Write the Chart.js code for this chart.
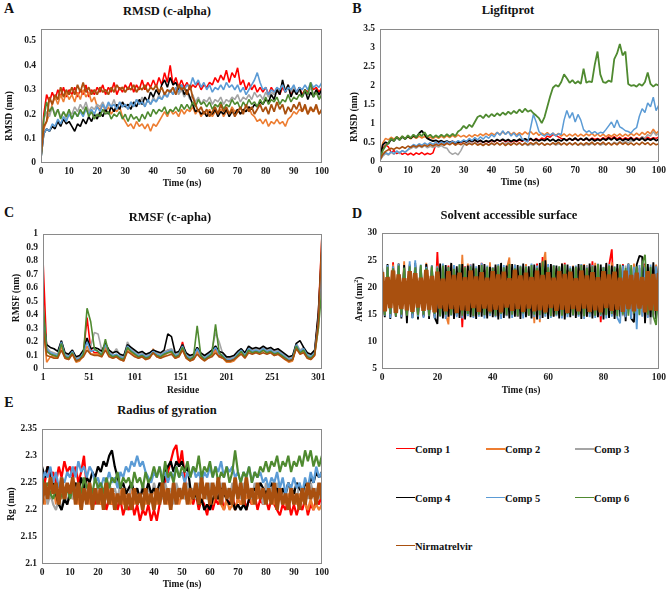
<!DOCTYPE html>
<html><head><meta charset="utf-8">
<script src="https://cdn.jsdelivr.net/npm/chart.js@4.4.1/dist/chart.umd.min.js"></script>
<style>
html,body{margin:0;padding:0;background:#fff;}
body{width:669px;height:593px;position:relative;overflow:hidden;font-family:"Liberation Serif","Times New Roman",serif;color:#111;}
canvas{position:absolute;}
.t{position:absolute;font-weight:bold;white-space:nowrap;transform:translate(-50%,-50%);line-height:1;}
.r{transform:translate(-50%,-50%) rotate(-90deg);}
.let{font-size:14px;}
.ttl{font-size:12.5px;}
.ax{font-size:9.5px;}
.lg{position:absolute;height:0;}
.lgt{position:absolute;font-weight:bold;font-size:10.5px;transform:translateY(-50%);white-space:nowrap;}
</style></head><body>
<canvas id="cA" width="332" height="178" style="left:0;top:18px"></canvas>
<canvas id="cB" width="334" height="178" style="left:335px;top:18px"></canvas>
<canvas id="cC" width="332" height="165" style="left:0;top:222px"></canvas>
<canvas id="cD" width="334" height="165" style="left:335px;top:222px"></canvas>
<canvas id="cE" width="332" height="170" style="left:0;top:418px"></canvas>

<div class="t let" style="left:9px;top:9px">A</div>
<div class="t let" style="left:357px;top:9px">B</div>
<div class="t let" style="left:9px;top:213px">C</div>
<div class="t let" style="left:357px;top:214px">D</div>
<div class="t let" style="left:9px;top:403px">E</div>

<div class="t ttl" style="left:167px;top:11px">RMSD (c-alpha)</div>
<div class="t ttl" style="left:508px;top:10px">Ligfitprot</div>
<div class="t ttl" style="left:170px;top:217px">RMSF (c-apha)</div>
<div class="t ttl" style="left:509px;top:215px">Solvent accessible surface</div>
<div class="t ttl" style="left:167px;top:410px">Radius of gyration</div>

<div class="t ax" style="left:182px;top:184px">Time (ns)</div>
<div class="t ax" style="left:520px;top:183px">Time (ns)</div>
<div class="t ax" style="left:183px;top:391px">Residue</div>
<div class="t ax" style="left:521px;top:391px">Time (ns)</div>
<div class="t ax" style="left:182px;top:585px">Time (ns)</div>

<div class="t ax r" style="left:10px;top:116px">RMSD (nm)</div>
<div class="t ax r" style="left:355px;top:117px">RMSD (nm)</div>
<div class="t ax r" style="left:17px;top:298px">RMSF (nm)</div>
<div class="t ax r" style="left:359px;top:299px">Area (nm<sup style="font-size:6px;vertical-align:4px">2</sup>)</div>
<div class="t ax r" style="left:12px;top:504px">Rg (nm)</div>

<div id="legend"></div>

<script>
// ---------- series names & colours ----------
const seriesNames = ["Comp 1","Comp 2","Comp 3","Comp 4","Comp 5","Comp 6","Nirmatrelvir"];
const seriesColors = ["#FF0000","#ED7D31","#A5A5A5","#000000","#5B9BD5","#4F8A30","#A9500F"];

// ---------- common time axis (ns) ----------
const time = [0,1,2,3,4,5,6,7,8,9,10,11,12,13,14,15,16,17,18,19,20,21,22,23,24,25,26,27,28,29,30,31,32,33,34,35,36,37,38,39,40,41,42,43,44,45,46,47,48,49,50,51,52,53,54,55,56,57,58,59,60,61,62,63,64,65,66,67,68,69,70,71,72,73,74,75,76,77,78,79,80,81,82,83,84,85,86,87,88,89,90,91,92,93,94,95,96,97,98,99,100];

// ---------- tick labels ----------
const ticksTime10 = [0,10,20,30,40,50,60,70,80,90,100];
const ticksTime20 = [0,20,40,60,80,100];
const ticksRmsdY = [0,0.1,0.2,0.3,0.4,0.5];
const ticksLigY = [0,0.5,1,1.5,2,2.5,3,3.5];
const ticksResidue = [1,51,101,151,201,251,301];
const ticksRmsfY = [0,0.1,0.2,0.3,0.4,0.5,0.6,0.7,0.8,0.9,1];
const ticksAreaY = [5,10,15,20,25,30];
const ticksRgY = [2.1,2.15,2.2,2.25,2.3,2.35];

// ---------- A: RMSD (c-alpha), nm ----------
const rmsdComp1 = [0.03,0.20,0.28,0.25,0.29,0.26,0.30,0.27,0.31,0.27,0.30,0.28,0.31,0.27,0.30,0.28,0.32,0.27,0.30,0.28,0.31,0.29,0.32,0.28,0.31,0.29,0.33,0.28,0.31,0.29,0.32,0.30,0.33,0.29,0.32,0.30,0.34,0.30,0.33,0.31,0.34,0.31,0.35,0.32,0.37,0.33,0.40,0.32,0.35,0.31,0.34,0.31,0.33,0.30,0.32,0.31,0.33,0.30,0.32,0.31,0.33,0.32,0.35,0.33,0.36,0.34,0.38,0.33,0.37,0.35,0.39,0.32,0.34,0.30,0.33,0.30,0.32,0.29,0.31,0.29,0.31,0.28,0.31,0.29,0.30,0.28,0.31,0.29,0.32,0.28,0.30,0.29,0.31,0.28,0.30,0.29,0.32,0.30,0.31,0.29,0.31];
const rmsdComp2 = [0.05,0.14,0.17,0.20,0.24,0.27,0.24,0.28,0.25,0.29,0.26,0.28,0.25,0.29,0.26,0.30,0.27,0.29,0.25,0.27,0.23,0.22,0.24,0.21,0.23,0.20,0.22,0.21,0.23,0.19,0.17,0.15,0.16,0.14,0.17,0.15,0.16,0.14,0.16,0.13,0.16,0.15,0.17,0.19,0.21,0.19,0.22,0.20,0.21,0.19,0.22,0.20,0.22,0.21,0.23,0.20,0.22,0.19,0.21,0.20,0.22,0.19,0.21,0.20,0.22,0.19,0.21,0.20,0.23,0.21,0.22,0.20,0.22,0.21,0.23,0.20,0.19,0.17,0.18,0.16,0.18,0.15,0.17,0.16,0.18,0.16,0.17,0.15,0.18,0.19,0.21,0.20,0.22,0.21,0.23,0.20,0.22,0.21,0.23,0.20,0.22];
const rmsdComp3 = [0.05,0.18,0.21,0.19,0.23,0.20,0.22,0.19,0.21,0.18,0.21,0.20,0.23,0.21,0.24,0.22,0.25,0.21,0.23,0.22,0.24,0.23,0.25,0.22,0.24,0.23,0.26,0.22,0.25,0.23,0.24,0.22,0.25,0.23,0.26,0.24,0.27,0.23,0.26,0.24,0.27,0.25,0.28,0.26,0.29,0.27,0.30,0.28,0.31,0.28,0.30,0.27,0.29,0.26,0.28,0.25,0.27,0.24,0.26,0.25,0.27,0.24,0.26,0.25,0.27,0.24,0.26,0.25,0.27,0.26,0.28,0.25,0.27,0.26,0.28,0.26,0.29,0.27,0.28,0.26,0.29,0.27,0.29,0.28,0.31,0.29,0.33,0.30,0.32,0.29,0.31,0.28,0.30,0.27,0.29,0.28,0.31,0.28,0.30,0.27,0.29];
const rmsdComp4 = [0.02,0.12,0.14,0.13,0.15,0.14,0.17,0.15,0.18,0.16,0.17,0.15,0.13,0.16,0.15,0.18,0.16,0.19,0.17,0.20,0.18,0.21,0.19,0.22,0.20,0.23,0.21,0.24,0.22,0.25,0.23,0.24,0.22,0.25,0.23,0.26,0.24,0.27,0.25,0.29,0.27,0.30,0.28,0.32,0.34,0.31,0.35,0.32,0.33,0.30,0.32,0.28,0.30,0.27,0.24,0.21,0.22,0.20,0.21,0.19,0.21,0.20,0.22,0.19,0.21,0.20,0.22,0.19,0.21,0.20,0.22,0.20,0.22,0.21,0.23,0.22,0.24,0.23,0.25,0.24,0.26,0.25,0.28,0.26,0.30,0.28,0.34,0.29,0.32,0.27,0.30,0.28,0.31,0.27,0.30,0.26,0.29,0.27,0.30,0.28,0.30];
const rmsdComp5 = [0.02,0.12,0.14,0.13,0.16,0.15,0.18,0.16,0.19,0.17,0.20,0.18,0.21,0.19,0.21,0.19,0.22,0.20,0.22,0.20,0.23,0.21,0.24,0.22,0.25,0.23,0.24,0.22,0.25,0.23,0.24,0.22,0.25,0.23,0.26,0.24,0.25,0.23,0.26,0.24,0.26,0.25,0.27,0.26,0.28,0.27,0.30,0.28,0.31,0.29,0.32,0.30,0.32,0.31,0.35,0.32,0.34,0.31,0.33,0.30,0.32,0.29,0.31,0.30,0.32,0.30,0.33,0.31,0.32,0.30,0.32,0.29,0.31,0.28,0.30,0.32,0.34,0.37,0.33,0.30,0.31,0.28,0.30,0.29,0.31,0.30,0.32,0.29,0.31,0.30,0.32,0.29,0.31,0.30,0.32,0.30,0.33,0.31,0.32,0.31,0.33];
const rmsdComp6 = [0.02,0.18,0.25,0.21,0.23,0.19,0.22,0.18,0.21,0.19,0.22,0.18,0.21,0.19,0.22,0.20,0.23,0.19,0.21,0.18,0.20,0.19,0.22,0.20,0.21,0.18,0.20,0.19,0.21,0.18,0.20,0.17,0.20,0.18,0.19,0.17,0.20,0.18,0.21,0.19,0.22,0.20,0.22,0.21,0.23,0.20,0.22,0.21,0.23,0.21,0.24,0.22,0.24,0.22,0.25,0.23,0.26,0.24,0.25,0.23,0.25,0.22,0.24,0.23,0.25,0.22,0.24,0.23,0.26,0.24,0.25,0.22,0.25,0.23,0.26,0.24,0.25,0.23,0.26,0.24,0.27,0.24,0.26,0.25,0.27,0.24,0.26,0.25,0.28,0.25,0.27,0.26,0.28,0.27,0.30,0.28,0.33,0.27,0.29,0.26,0.28];
const rmsdNirmatrelvir = [0.03,0.15,0.17,0.27,0.24,0.28,0.26,0.31,0.27,0.30,0.28,0.31,0.28,0.32,0.29,0.33,0.29,0.31,0.28,0.30,0.28,0.31,0.29,0.30,0.28,0.31,0.29,0.32,0.30,0.31,0.29,0.31,0.30,0.32,0.29,0.31,0.30,0.32,0.29,0.31,0.30,0.32,0.29,0.31,0.28,0.30,0.29,0.31,0.28,0.32,0.30,0.31,0.28,0.32,0.27,0.24,0.21,0.23,0.20,0.22,0.19,0.21,0.23,0.20,0.24,0.21,0.23,0.20,0.22,0.19,0.21,0.23,0.20,0.24,0.21,0.23,0.20,0.22,0.24,0.21,0.23,0.20,0.24,0.21,0.25,0.22,0.24,0.20,0.23,0.21,0.24,0.22,0.25,0.21,0.24,0.20,0.23,0.21,0.24,0.20,0.22];

// ---------- B: Ligfitprot RMSD, nm ----------
const ligComp1 = [0.10,0.35,0.45,0.40,0.25,0.30,0.22,0.25,0.20,0.24,0.19,0.23,0.18,0.24,0.20,0.25,0.19,0.23,0.20,0.24,0.45,0.50,0.55,0.48,0.52,0.50,0.55,0.49,0.53,0.50,0.56,0.52,0.57,0.53,0.58,0.52,0.56,0.51,0.55,0.52,0.57,0.53,0.58,0.54,0.59,0.53,0.57,0.52,0.56,0.53,0.58,0.54,0.59,0.55,0.60,0.56,0.62,0.57,0.63,0.60,0.68,0.65,0.72,0.70,0.66,0.62,0.60,0.58,0.62,0.57,0.61,0.58,0.62,0.57,0.61,0.58,0.63,0.59,0.62,0.58,0.64,0.60,0.66,0.61,0.67,0.60,0.65,0.59,0.64,0.60,0.65,0.59,0.64,0.60,0.66,0.61,0.65,0.60,0.64,0.62,0.66];
const ligComp2 = [0.10,0.50,0.62,0.58,0.65,0.60,0.66,0.61,0.67,0.62,0.66,0.61,0.67,0.62,0.68,0.63,0.67,0.62,0.66,0.61,0.67,0.62,0.68,0.63,0.69,0.64,0.70,0.65,0.71,0.66,0.70,0.65,0.71,0.66,0.72,0.68,0.74,0.69,0.75,0.70,0.76,0.71,0.78,0.72,0.79,0.73,0.80,0.72,0.78,0.71,0.77,0.72,0.79,0.73,0.80,0.72,0.78,0.70,0.76,0.71,0.77,0.70,0.76,0.69,0.75,0.68,0.74,0.67,0.73,0.68,0.74,0.67,0.73,0.68,0.74,0.69,0.75,0.68,0.74,0.67,0.73,0.66,0.72,0.67,0.73,0.68,0.74,0.67,0.73,0.68,0.75,0.69,0.76,0.70,0.78,0.72,0.80,0.74,0.86,0.75,0.82];
const ligComp3 = [0.05,0.15,0.22,0.18,0.25,0.20,0.28,0.22,0.30,0.25,0.32,0.35,0.40,0.36,0.42,0.38,0.43,0.37,0.41,0.38,0.42,0.39,0.43,0.38,0.36,0.25,0.20,0.24,0.19,0.30,0.45,0.48,0.52,0.47,0.51,0.46,0.50,0.45,0.49,0.44,0.48,0.45,0.50,0.46,0.51,0.47,0.52,0.46,0.50,0.45,0.49,0.44,0.48,0.43,0.47,0.44,0.49,0.45,0.50,0.44,0.48,0.45,0.49,0.44,0.48,0.45,0.50,0.46,0.51,0.45,0.49,0.44,0.48,0.43,0.47,0.44,0.49,0.45,0.50,0.44,0.48,0.45,0.50,0.46,0.52,0.48,0.54,0.49,0.55,0.50,0.56,0.55,0.62,0.58,0.66,0.63,0.72,0.68,0.80,0.70,0.76];
const ligComp4 = [0.10,0.45,0.52,0.48,0.60,0.55,0.65,0.58,0.66,0.60,0.68,0.62,0.70,0.64,0.75,0.82,0.72,0.62,0.58,0.55,0.57,0.53,0.56,0.52,0.55,0.51,0.54,0.50,0.53,0.52,0.56,0.53,0.57,0.54,0.58,0.53,0.57,0.52,0.56,0.53,0.58,0.54,0.59,0.55,0.60,0.55,0.59,0.54,0.58,0.55,0.60,0.56,0.61,0.57,0.62,0.56,0.60,0.55,0.59,0.56,0.61,0.55,0.60,0.54,0.59,0.55,0.61,0.56,0.62,0.57,0.63,0.56,0.62,0.57,0.63,0.56,0.61,0.55,0.60,0.56,0.62,0.57,0.63,0.58,0.64,0.57,0.62,0.56,0.61,0.57,0.63,0.56,0.62,0.57,0.63,0.56,0.61,0.57,0.62,0.56,0.60];
const ligComp5 = [0.05,0.18,0.25,0.20,0.27,0.22,0.29,0.24,0.30,0.26,0.32,0.40,0.46,0.42,0.48,0.44,0.50,0.45,0.51,0.46,0.52,0.47,0.53,0.48,0.54,0.49,0.55,0.50,0.56,0.52,0.58,0.54,0.62,0.56,0.64,0.58,0.66,0.60,0.68,0.62,0.72,0.66,0.78,0.70,0.82,0.72,0.80,0.68,0.76,0.66,0.74,0.60,0.56,0.52,0.90,1.25,1.05,0.80,0.72,0.68,0.74,0.70,0.76,0.68,0.74,0.72,1.10,1.35,1.15,1.30,1.05,1.25,1.10,0.85,0.78,0.82,0.75,0.80,0.74,0.78,0.76,0.85,0.95,1.05,0.90,1.10,0.92,0.88,0.82,0.80,0.76,0.85,0.90,1.20,1.40,1.30,1.55,1.45,1.70,1.35,1.50];
const ligComp6 = [0.10,0.30,0.42,0.50,0.62,0.55,0.66,0.58,0.68,0.60,0.70,0.63,0.72,0.65,0.74,0.68,0.78,0.66,0.72,0.64,0.70,0.65,0.72,0.66,0.73,0.67,0.74,0.68,0.80,0.85,0.95,0.88,0.98,0.92,1.05,1.18,1.22,1.15,1.25,1.18,1.26,1.20,1.28,1.22,1.30,1.24,1.32,1.26,1.34,1.28,1.38,1.30,1.40,1.32,1.36,1.28,1.22,1.15,1.02,1.18,1.45,1.72,1.95,2.02,1.98,2.10,2.30,2.20,2.08,2.15,2.06,2.12,2.05,2.45,2.08,2.12,2.10,2.55,2.90,2.30,2.10,2.08,2.14,2.10,2.70,2.85,3.10,2.80,2.90,2.05,2.00,2.02,1.98,2.05,2.00,2.10,2.35,2.05,1.98,2.04,2.00];
const ligNirmatrelvir = [0.05,0.20,0.28,0.32,0.36,0.33,0.38,0.35,0.40,0.36,0.42,0.38,0.43,0.39,0.44,0.40,0.45,0.41,0.46,0.42,0.47,0.43,0.48,0.44,0.49,0.45,0.50,0.44,0.49,0.45,0.50,0.44,0.49,0.45,0.50,0.44,0.48,0.43,0.49,0.44,0.50,0.45,0.51,0.44,0.50,0.43,0.49,0.44,0.50,0.45,0.51,0.44,0.50,0.45,0.51,0.46,0.52,0.45,0.50,0.44,0.49,0.45,0.51,0.46,0.52,0.45,0.50,0.44,0.50,0.45,0.51,0.44,0.50,0.45,0.51,0.46,0.52,0.45,0.51,0.46,0.52,0.45,0.51,0.44,0.50,0.45,0.52,0.46,0.51,0.45,0.50,0.44,0.50,0.45,0.52,0.46,0.51,0.44,0.50,0.45,0.48];

// ---------- C: RMSF (c-alpha), nm, by residue ----------
const residue = [1,5,9,13,17,21,25,29,33,37,41,45,49,53,57,61,65,69,73,77,81,85,89,93,97,101,105,109,113,117,121,125,129,133,137,141,145,149,153,157,161,165,169,173,177,181,185,189,193,197,201,205,209,213,217,221,225,229,233,237,241,245,249,253,257,261,265,269,273,277,281,285,289,293,297,301,305];
const rmsfComp1 = [0.81,0.14,0.11,0.10,0.09,0.19,0.09,0.08,0.12,0.06,0.07,0.11,0.38,0.15,0.12,0.12,0.10,0.17,0.11,0.09,0.10,0.08,0.07,0.16,0.13,0.11,0.09,0.10,0.08,0.09,0.12,0.10,0.09,0.11,0.14,0.13,0.09,0.10,0.20,0.09,0.07,0.08,0.14,0.09,0.07,0.09,0.11,0.15,0.10,0.09,0.06,0.06,0.07,0.10,0.13,0.09,0.14,0.12,0.13,0.12,0.14,0.12,0.13,0.11,0.12,0.10,0.08,0.06,0.07,0.17,0.12,0.14,0.09,0.08,0.11,0.40,1.00];
const rmsfComp2 = [0.35,0.05,0.09,0.09,0.08,0.17,0.08,0.07,0.11,0.05,0.06,0.10,0.17,0.11,0.11,0.11,0.09,0.16,0.10,0.08,0.09,0.07,0.06,0.15,0.12,0.10,0.08,0.09,0.07,0.08,0.15,0.09,0.08,0.10,0.12,0.12,0.08,0.09,0.15,0.08,0.06,0.07,0.13,0.08,0.06,0.08,0.10,0.14,0.09,0.08,0.05,0.05,0.06,0.09,0.13,0.09,0.14,0.12,0.13,0.12,0.14,0.12,0.13,0.10,0.11,0.09,0.07,0.05,0.06,0.17,0.11,0.13,0.08,0.07,0.10,0.30,0.90];
const rmsfComp3 = [0.40,0.16,0.13,0.12,0.11,0.21,0.11,0.10,0.14,0.08,0.09,0.13,0.21,0.17,0.27,0.26,0.14,0.19,0.13,0.11,0.15,0.10,0.09,0.20,0.15,0.13,0.11,0.12,0.10,0.11,0.14,0.12,0.11,0.13,0.14,0.15,0.11,0.12,0.18,0.11,0.09,0.10,0.16,0.11,0.09,0.11,0.14,0.27,0.20,0.11,0.08,0.08,0.09,0.12,0.15,0.11,0.16,0.14,0.15,0.14,0.16,0.14,0.15,0.13,0.14,0.12,0.10,0.08,0.09,0.19,0.14,0.16,0.11,0.10,0.13,0.38,0.85];
const rmsfComp4 = [0.40,0.18,0.16,0.15,0.13,0.21,0.12,0.11,0.14,0.09,0.10,0.14,0.23,0.15,0.16,0.15,0.13,0.19,0.14,0.12,0.13,0.11,0.10,0.18,0.16,0.14,0.12,0.13,0.11,0.12,0.14,0.13,0.12,0.14,0.26,0.24,0.12,0.13,0.18,0.12,0.10,0.11,0.16,0.12,0.10,0.12,0.14,0.17,0.13,0.12,0.09,0.09,0.10,0.13,0.15,0.12,0.17,0.15,0.16,0.15,0.17,0.15,0.16,0.14,0.15,0.13,0.11,0.09,0.10,0.19,0.21,0.16,0.12,0.11,0.14,0.42,0.90];
const rmsfComp5 = [0.45,0.15,0.12,0.11,0.10,0.20,0.10,0.09,0.13,0.07,0.08,0.12,0.20,0.13,0.14,0.13,0.11,0.18,0.12,0.10,0.11,0.09,0.08,0.17,0.14,0.12,0.10,0.11,0.09,0.10,0.13,0.11,0.10,0.12,0.13,0.14,0.10,0.11,0.17,0.10,0.08,0.09,0.15,0.10,0.08,0.10,0.12,0.16,0.11,0.10,0.07,0.07,0.08,0.11,0.14,0.10,0.15,0.13,0.14,0.13,0.15,0.13,0.14,0.12,0.13,0.11,0.09,0.07,0.08,0.18,0.13,0.15,0.10,0.09,0.12,0.35,0.80];
const rmsfComp6 = [0.50,0.13,0.11,0.10,0.09,0.19,0.09,0.08,0.12,0.06,0.07,0.11,0.45,0.35,0.15,0.13,0.10,0.22,0.11,0.09,0.10,0.08,0.07,0.16,0.13,0.11,0.09,0.10,0.08,0.09,0.12,0.10,0.09,0.11,0.12,0.13,0.09,0.10,0.16,0.09,0.07,0.09,0.32,0.10,0.07,0.09,0.11,0.33,0.12,0.09,0.06,0.06,0.07,0.10,0.13,0.09,0.14,0.12,0.13,0.12,0.14,0.12,0.13,0.11,0.12,0.10,0.08,0.06,0.07,0.17,0.12,0.14,0.09,0.08,0.11,0.30,0.60];
const rmsfNirmatrelvir = [0.30,0.10,0.09,0.08,0.08,0.14,0.08,0.07,0.11,0.06,0.07,0.09,0.14,0.11,0.10,0.10,0.09,0.14,0.09,0.08,0.09,0.07,0.06,0.13,0.11,0.09,0.08,0.09,0.07,0.08,0.12,0.09,0.08,0.09,0.10,0.11,0.08,0.09,0.14,0.08,0.06,0.07,0.11,0.08,0.06,0.08,0.09,0.12,0.09,0.08,0.06,0.06,0.07,0.09,0.11,0.08,0.12,0.11,0.12,0.11,0.12,0.11,0.12,0.10,0.11,0.09,0.07,0.06,0.07,0.15,0.11,0.12,0.08,0.07,0.10,0.35,1.00];

// ---------- D: Solvent accessible surface, nm^2 ----------
const sasComp1 = [23.5,15.0,22.8,14.8,24.6,15.2,23.0,14.6,22.9,15.3,23.4,14.9,23.8,15.1,22.6,14.7,24.1,15.4,23.2,14.8,26.5,15.0,23.6,14.5,24.0,15.2,22.9,14.8,23.5,12.7,23.9,15.1,24.2,14.6,23.1,15.3,24.5,14.9,22.8,15.0,23.6,14.7,24.0,15.2,23.3,14.8,24.3,15.1,22.9,14.6,23.8,15.3,24.1,14.9,23.0,15.0,24.4,14.7,25.6,15.2,23.4,14.8,24.0,15.1,23.2,14.6,24.5,15.3,23.0,14.9,23.9,15.0,24.2,14.7,23.3,15.2,24.8,14.8,23.1,13.6,23.7,15.1,24.0,27.0,14.9,23.5,15.3,24.3,14.7,23.0,15.0,24.1,14.8,23.6,15.2,24.4,14.6,23.2,15.0,24.0,14.9];
const sasComp2 = [22.9,14.9,23.6,15.1,24.2,14.7,23.3,15.4,24.8,14.8,23.5,15.2,24.1,14.6,23.4,15.0,24.5,14.9,23.1,15.3,24.0,14.7,23.7,15.1,13.2,24.3,14.8,23.0,15.2,26.0,14.9,24.4,15.0,23.5,14.6,24.1,15.3,23.2,14.8,24.6,15.1,23.8,14.7,24.0,15.2,23.3,25.5,14.9,24.2,15.0,23.6,14.8,24.3,15.1,23.4,13.4,24.0,13.6,23.9,26.5,15.2,24.1,14.7,23.5,15.0,24.4,14.9,23.2,15.3,24.0,14.8,23.6,15.1,24.3,14.6,23.8,15.2,24.5,14.9,23.1,15.0,24.2,14.7,24.6,15.3,23.4,14.8,24.0,15.1,23.7,14.9,24.4,15.2,23.3,14.7,24.1,15.0,23.6,14.8,24.2,15.1];
const sasComp3 = [23.2,15.3,22.8,14.9,23.6,15.1,23.0,15.4,23.8,14.8,23.1,15.2,23.7,14.9,23.3,15.0,24.0,15.3,23.1,14.7,23.6,15.1,23.9,14.8,23.2,15.4,23.7,14.9,23.4,15.2,23.0,14.8,23.8,15.1,23.5,14.9,24.1,15.3,23.2,14.7,23.6,15.0,23.9,14.8,23.3,15.2,24.0,14.9,23.4,15.1,23.7,14.8,23.5,15.3,24.2,14.9,23.1,15.0,23.8,14.7,23.4,15.2,23.9,14.8,23.6,15.1,24.0,14.9,23.3,15.3,23.7,14.8,23.5,15.0,24.1,14.6,23.2,15.2,23.9,14.9,23.6,15.1,24.3,14.8,23.4,15.0,23.8,14.7,24.0,15.2,23.5,14.9,23.9,15.1,25.6,14.8,23.7,13.2,24.0,15.0,23.3];
const sasComp4 = [24.0,14.5,24.3,14.2,23.8,14.6,24.4,14.3,24.1,13.4,24.2,14.4,24.5,14.1,23.9,14.6,24.3,14.2,24.0,14.5,13.3,24.4,14.3,24.1,14.6,24.5,14.2,23.9,14.4,24.3,14.1,24.0,14.5,24.4,14.2,24.1,14.6,24.3,14.3,23.8,14.5,24.2,14.1,24.5,14.4,24.0,14.3,24.3,14.6,24.1,14.2,24.4,14.5,23.9,14.3,24.2,14.1,24.5,14.4,25.0,14.2,24.3,14.6,24.0,14.3,24.4,14.1,24.2,14.5,23.9,14.4,24.3,14.2,24.1,14.6,24.4,14.3,24.0,14.5,24.2,14.1,24.5,14.4,24.0,14.2,24.3,14.6,24.1,13.8,24.4,14.3,13.6,24.2,25.8,25.6,13.4,24.3,14.5,24.6,14.2,24.1];
const sasComp5 = [23.7,14.8,24.1,14.4,23.9,14.7,24.3,14.5,23.6,14.9,24.8,14.3,25.0,14.6,24.2,14.4,23.8,14.7,24.0,14.3,23.9,14.6,24.4,14.2,23.7,14.8,24.1,14.5,24.3,14.3,23.8,14.7,24.2,14.4,23.9,14.6,24.5,14.3,24.0,14.8,23.7,14.5,24.3,14.2,24.1,14.7,23.8,14.4,24.2,14.6,24.0,14.3,23.9,14.8,24.4,14.5,24.0,14.2,23.7,14.6,24.3,14.4,24.1,14.7,23.8,14.3,24.2,14.5,23.9,14.8,24.0,14.6,24.3,14.2,23.7,14.5,24.1,14.4,24.4,14.7,23.8,14.3,24.2,14.6,23.9,14.4,13.4,24.0,14.5,24.3,14.2,23.8,12.3,24.1,14.6,23.7,14.4,24.2,14.5,23.9,14.7];
const sasComp6 = [23.4,14.9,23.8,15.1,23.5,14.7,24.0,15.0,23.6,14.8,23.9,15.2,23.7,14.9,24.1,15.0,23.5,14.8,23.9,15.1,23.6,14.7,24.0,15.0,23.8,14.9,23.4,15.2,24.2,14.8,23.7,15.1,23.9,14.7,23.5,15.0,24.1,14.9,23.8,15.2,23.6,14.8,24.0,15.1,23.7,14.9,24.3,15.0,23.5,14.7,23.9,15.2,23.8,14.8,24.1,15.0,23.6,14.9,24.8,15.1,23.7,14.7,24.0,15.0,23.9,14.8,24.2,15.1,23.5,14.9,23.8,15.0,24.1,14.7,23.6,15.2,23.9,14.8,24.3,15.0,23.7,14.9,24.0,15.1,23.8,14.7,24.2,15.0,23.6,14.8,24.1,15.2,23.9,14.9,24.4,26.0,15.0,23.8,14.7,13.1,24.0];
const sasNirmatrelvir = [22.8,15.6,21.9,16.2,23.1,15.3,22.4,16.0,21.7,15.8,23.0,15.5,22.6,16.3,21.8,15.7,23.2,15.9,22.1,15.4,22.9,16.1,21.6,15.6,23.0,16.0,22.3,15.3,22.7,15.8,21.9,15.7,23.1,16.2,22.0,15.5,22.8,16.1,21.8,15.6,23.0,15.9,22.4,15.4,22.9,16.3,21.7,15.7,23.2,16.0,22.2,15.5,22.7,16.1,21.9,15.6,23.1,15.8,22.3,15.4,22.8,16.2,21.8,15.7,23.0,15.9,22.5,15.3,22.9,16.0,21.7,15.6,23.1,16.1,22.2,15.5,22.8,15.8,21.9,15.4,23.0,16.2,22.4,15.7,22.9,15.9,21.8,15.5,23.1,16.0,22.3,15.6,22.7,16.1,21.9,15.4,23.0,15.8,22.5,15.7,22.6];

// ---------- E: Radius of gyration, nm ----------
const rgComp1 = [2.27,2.25,2.28,2.26,2.27,2.25,2.28,2.26,2.29,2.27,2.28,2.26,2.28,2.25,2.27,2.30,2.24,2.22,2.24,2.21,2.23,2.21,2.23,2.20,2.22,2.21,2.23,2.20,2.22,2.19,2.21,2.20,2.22,2.19,2.21,2.18,2.20,2.19,2.21,2.18,2.20,2.18,2.21,2.23,2.25,2.27,2.29,2.31,2.32,2.28,2.31,2.26,2.22,2.24,2.21,2.23,2.20,2.22,2.21,2.19,2.22,2.20,2.22,2.21,2.23,2.20,2.22,2.21,2.23,2.20,2.22,2.21,2.23,2.20,2.22,2.21,2.23,2.20,2.22,2.21,2.22,2.20,2.22,2.21,2.20,2.19,2.21,2.20,2.22,2.19,2.21,2.19,2.21,2.20,2.22,2.19,2.21,2.20,2.22,2.21,2.23];
const rgComp2 = [2.23,2.21,2.24,2.22,2.25,2.21,2.23,2.22,2.24,2.21,2.23,2.22,2.24,2.21,2.23,2.22,2.24,2.21,2.23,2.22,2.24,2.21,2.23,2.22,2.24,2.21,2.23,2.22,2.24,2.21,2.23,2.22,2.24,2.21,2.23,2.22,2.24,2.21,2.23,2.22,2.24,2.21,2.23,2.22,2.24,2.21,2.23,2.22,2.24,2.21,2.23,2.22,2.24,2.21,2.23,2.22,2.24,2.21,2.23,2.22,2.23,2.21,2.23,2.22,2.21,2.20,2.22,2.20,2.21,2.20,2.22,2.21,2.23,2.22,2.24,2.21,2.23,2.22,2.24,2.21,2.23,2.22,2.24,2.21,2.23,2.22,2.24,2.21,2.23,2.22,2.24,2.21,2.23,2.22,2.21,2.20,2.22,2.20,2.21,2.20,2.21];
const rgComp3 = [2.22,2.24,2.21,2.23,2.21,2.20,2.22,2.20,2.23,2.21,2.24,2.22,2.25,2.23,2.24,2.22,2.25,2.23,2.24,2.22,2.25,2.23,2.24,2.22,2.25,2.23,2.24,2.22,2.25,2.23,2.24,2.22,2.25,2.23,2.24,2.22,2.25,2.23,2.24,2.22,2.25,2.23,2.24,2.22,2.25,2.23,2.24,2.21,2.25,2.23,2.24,2.22,2.25,2.23,2.24,2.22,2.25,2.23,2.24,2.22,2.25,2.23,2.24,2.22,2.25,2.23,2.24,2.22,2.25,2.23,2.24,2.22,2.25,2.23,2.24,2.22,2.25,2.23,2.24,2.21,2.25,2.23,2.24,2.22,2.25,2.23,2.24,2.22,2.25,2.23,2.24,2.22,2.25,2.23,2.24,2.22,2.25,2.23,2.24,2.22,2.25];
const rgComp4 = [2.28,2.26,2.28,2.27,2.25,2.23,2.21,2.20,2.22,2.21,2.23,2.24,2.25,2.23,2.26,2.24,2.26,2.25,2.27,2.26,2.28,2.27,2.29,2.28,2.30,2.31,2.28,2.26,2.24,2.25,2.23,2.24,2.25,2.23,2.24,2.22,2.24,2.23,2.25,2.23,2.24,2.23,2.25,2.24,2.27,2.28,2.29,2.27,2.29,2.28,2.29,2.27,2.28,2.24,2.22,2.23,2.21,2.22,2.20,2.21,2.20,2.22,2.23,2.22,2.24,2.23,2.22,2.21,2.22,2.20,2.21,2.20,2.21,2.20,2.22,2.23,2.24,2.23,2.25,2.24,2.23,2.24,2.25,2.23,2.24,2.22,2.24,2.23,2.25,2.24,2.23,2.25,2.24,2.23,2.25,2.24,2.26,2.25,2.27,2.26,2.27];
const rgComp5 = [2.25,2.27,2.26,2.28,2.25,2.27,2.24,2.26,2.25,2.27,2.26,2.28,2.26,2.29,2.27,2.28,2.26,2.28,2.27,2.25,2.26,2.24,2.26,2.25,2.27,2.25,2.26,2.24,2.27,2.26,2.28,2.27,2.29,2.28,2.30,2.28,2.29,2.27,2.26,2.25,2.27,2.26,2.28,2.26,2.27,2.25,2.27,2.26,2.28,2.26,2.27,2.25,2.27,2.26,2.28,2.26,2.27,2.25,2.27,2.26,2.28,2.26,2.28,2.27,2.29,2.26,2.28,2.27,2.28,2.26,2.27,2.25,2.27,2.26,2.28,2.25,2.27,2.26,2.27,2.25,2.26,2.24,2.26,2.25,2.27,2.24,2.26,2.23,2.25,2.24,2.26,2.24,2.25,2.23,2.26,2.24,2.27,2.25,2.28,2.26,2.27];
const rgComp6 = [2.26,2.24,2.25,2.23,2.22,2.24,2.21,2.23,2.22,2.24,2.22,2.24,2.23,2.25,2.23,2.26,2.24,2.25,2.23,2.26,2.24,2.25,2.23,2.26,2.24,2.26,2.25,2.27,2.24,2.26,2.25,2.26,2.24,2.27,2.25,2.26,2.24,2.27,2.25,2.26,2.28,2.26,2.28,2.25,2.29,2.26,2.27,2.25,2.28,2.26,2.28,2.27,2.29,2.26,2.28,2.27,2.30,2.26,2.28,2.27,2.29,2.26,2.28,2.25,2.27,2.26,2.28,2.25,2.27,2.31,2.27,2.25,2.27,2.26,2.28,2.25,2.27,2.26,2.28,2.27,2.29,2.27,2.29,2.28,2.30,2.27,2.29,2.28,2.30,2.27,2.29,2.28,2.30,2.28,2.31,2.29,2.31,2.28,2.30,2.28,2.30];
const rgNirmatrelvir = [2.21,2.25,2.22,2.26,2.23,2.25,2.21,2.26,2.22,2.25,2.23,2.26,2.21,2.25,2.20,2.24,2.21,2.25,2.20,2.24,2.21,2.24,2.20,2.25,2.21,2.24,2.20,2.23,2.21,2.24,2.20,2.23,2.20,2.24,2.21,2.23,2.20,2.24,2.21,2.23,2.20,2.24,2.21,2.25,2.21,2.24,2.20,2.25,2.21,2.24,2.22,2.25,2.21,2.24,2.22,2.25,2.21,2.26,2.22,2.25,2.21,2.25,2.22,2.26,2.21,2.25,2.22,2.24,2.21,2.26,2.22,2.25,2.21,2.26,2.22,2.24,2.21,2.25,2.22,2.24,2.21,2.24,2.21,2.25,2.20,2.24,2.21,2.23,2.20,2.24,2.21,2.23,2.20,2.24,2.21,2.25,2.22,2.24,2.21,2.25,2.22];

// ---------- drawing ----------
const frame = {
  id: 'frame',
  afterDatasetsDraw(chart) {
    const a = chart.chartArea, ctx = chart.ctx;
    ctx.save();
    ctx.strokeStyle = '#8a8a8a';
    ctx.lineWidth = 1;
    ctx.strokeRect(Math.round(a.left) + 0.5, Math.round(a.top) + 0.5, Math.round(a.right - a.left) - 1, Math.round(a.bottom - a.top) - 1);
    ctx.restore();
  }
};
const tickFont = { family: 'Liberation Serif', weight: 'bold', size: 9.5 };
const fmt = v => String(Math.round(v * 100) / 100);

function panel(id, box, plot, xAxis, yAxis, xValues, ySeries, widths) {
  const datasets = ySeries.map((vals, i) => ({
    label: seriesNames[i],
    data: xValues.map((xv, j) => ({ x: xv, y: vals[j] })),
    borderColor: seriesColors[i],
    backgroundColor: seriesColors[i],
    borderWidth: widths[i],
    borderJoinStyle: 'bevel',
    pointRadius: 0,
    tension: 0,
    fill: false,
    order: ySeries.length - i
  }));
  new Chart(document.getElementById(id), {
    type: 'line',
    data: { datasets },
    options: {
      responsive: false, animation: false, events: [], devicePixelRatio: 1,
      layout: { autoPadding: false, padding: { left: 0, top: plot.t - box.t, right: box.l + box.w - plot.r, bottom: 0 } },
      plugins: { legend: { display: false }, tooltip: { enabled: false } },
      scales: {
        x: {
          type: 'linear', min: xAxis.min, max: xAxis.max,
          grid: { display: false, drawTicks: false }, border: { display: false },
          ticks: { font: tickFont, color: '#1a1a1a', padding: 3, maxRotation: 0, autoSkip: false, callback: fmt },
          afterBuildTicks: s => { s.ticks = xAxis.ticks.map(v => ({ value: v })); },
          afterFit: s => { s.height = box.t + box.h - plot.b; }
        },
        y: {
          type: 'linear', min: yAxis.min, max: yAxis.max,
          grid: { display: false, drawTicks: false }, border: { display: false },
          ticks: { font: tickFont, color: '#1a1a1a', padding: 5, autoSkip: false, callback: fmt },
          afterBuildTicks: s => { s.ticks = yAxis.ticks.map(v => ({ value: v })); },
          afterFit: s => { s.width = plot.l - box.l; }
        }
      }
    },
    plugins: [frame]
  });
}

panel('cA', { l: 0, t: 18, w: 332, h: 178 }, { l: 41, t: 27, r: 322, b: 163 },
  { min: 0, max: 100, ticks: ticksTime10 }, { min: 0, max: 0.55, ticks: ticksRmsdY }, time,
  [rmsdComp1, rmsdComp2, rmsdComp3, rmsdComp4, rmsdComp5, rmsdComp6, rmsdNirmatrelvir],
  [1.6, 1.6, 1.6, 1.6, 1.6, 1.6, 1.8]);

panel('cB', { l: 335, t: 18, w: 334, h: 178 }, { l: 380, t: 27, r: 660, b: 162 },
  { min: 0, max: 100, ticks: ticksTime10 }, { min: 0, max: 3.5, ticks: ticksLigY }, time,
  [ligComp1, ligComp2, ligComp3, ligComp4, ligComp5, ligComp6, ligNirmatrelvir],
  [1.5, 1.6, 1.5, 1.8, 1.5, 1.8, 1.6]);

panel('cC', { l: 0, t: 222, w: 332, h: 165 }, { l: 43, t: 234, r: 322, b: 369 },
  { min: 1, max: 305, ticks: ticksResidue }, { min: 0, max: 1, ticks: ticksRmsfY }, residue,
  [rmsfComp1, rmsfComp2, rmsfComp3, rmsfComp4, rmsfComp5, rmsfComp6, rmsfNirmatrelvir],
  [1.6, 1.6, 1.6, 1.6, 1.6, 1.6, 1.6]);

panel('cD', { l: 335, t: 222, w: 334, h: 165 }, { l: 382, t: 233, r: 660, b: 369 },
  { min: 0, max: 100, ticks: ticksTime20 }, { min: 5, max: 30, ticks: ticksAreaY }, time,
  [sasComp1, sasComp2, sasComp3, sasComp4, sasComp5, sasComp6, sasNirmatrelvir],
  [1.8, 1.8, 1.8, 1.8, 1.8, 1.8, 4.5]);

panel('cE', { l: 0, t: 418, w: 332, h: 170 }, { l: 42, t: 428, r: 322, b: 564 },
  { min: 0, max: 100, ticks: ticksTime10 }, { min: 2.1, max: 2.35, ticks: ticksRgY }, time,
  [rgComp1, rgComp2, rgComp3, rgComp4, rgComp5, rgComp6, rgNirmatrelvir],
  [2.2, 2.2, 2.2, 2.2, 2.2, 2.2, 3.5]);

// ---------- legend (HTML) ----------
const legendPos = [[396, 449], [486, 449], [575, 449], [396, 498], [486, 498], [575, 498], [396, 546]];
const lg = document.getElementById('legend');
seriesNames.forEach((n, i) => {
  const [x, y] = legendPos[i];
  const line = document.createElement('div');
  line.className = 'lg';
  line.style.cssText = `left:${x}px;top:${y - 1}px;width:19px;border-top:${i === 1 || i === 2 ? 2 : 1.5}px solid ${seriesColors[i]};`;
  lg.appendChild(line);
  const t = document.createElement('div');
  t.className = 'lgt';
  t.style.cssText = `left:${x + 19}px;top:${y}px;`;
  t.textContent = n;
  lg.appendChild(t);
});
</script>
</body></html>
